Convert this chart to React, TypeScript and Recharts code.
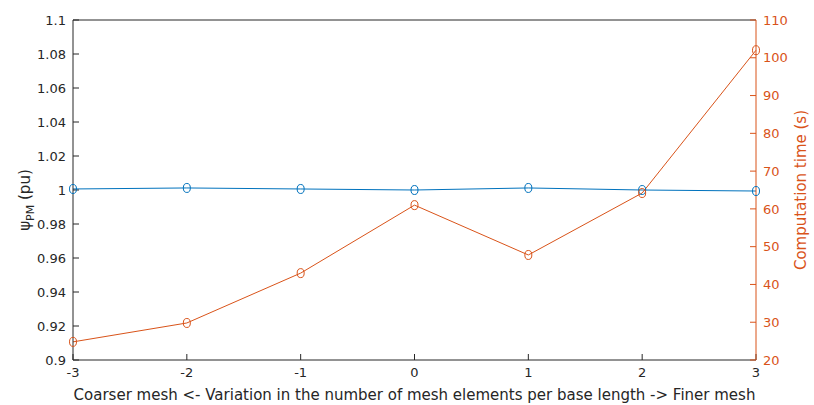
import React from 'react';
import {
  ComposedChart,
  Line,
  XAxis,
  YAxis,
  ReferenceLine,
} from 'recharts';

const variation = [-3, -2, -1, 0, 1, 2, 3];
const psiPM = [1.0006, 1.0012, 1.0006, 1.0, 1.0012, 1.0, 0.9994];
const compTime = [24.8, 29.8, 43, 61, 47.8, 64.2, 102];

const xTicks = [-3, -2, -1, 0, 1, 2, 3];
const leftTicks = [0.9, 0.92, 0.94, 0.96, 0.98, 1, 1.02, 1.04, 1.06, 1.08, 1.1];
const rightTicks = [20, 30, 40, 50, 60, 70, 80, 90, 100, 110];

const BLUE = '#0072BD';
const ORANGE = '#D95319';
const DARK = '#262626';
const FONT = 'DejaVu Sans, sans-serif';

const data = variation.map((v, i) => ({ v, psi: psiPM[i], time: compTime[i] }));

const Marker = (color: string) => (props: any) => {
  const { cx, cy, index } = props;
  if (cx == null || cy == null) return <g key={index} />;
  return (
    <ellipse key={index} cx={cx} cy={cy} rx={3.5} ry={4.5} fill="none" stroke={color} strokeWidth={1} />
  );
};

export default function App() {
  return (
    <div style={{ position: 'absolute', left: 0, top: 0, background: '#fff' }}>
      <style>{'body{margin:0}'}</style>
      <ComposedChart
        width={814}
        height={405}
        data={data}
        margin={{ top: 20, right: 0, left: 0, bottom: 0 }}
        style={{ fontFamily: FONT }}
      >
        <XAxis
          dataKey="v"
          type="number"
          domain={[-3, 3]}
          ticks={xTicks}
          stroke={DARK}
          tickSize={-6}
          tickMargin={14}
          height={45}
          tick={{ fontSize: 13, fill: DARK }}
          label={{
            value: 'Coarser mesh <- Variation in the number of mesh elements per base length -> Finer mesh',
            position: 'insideBottom',
            offset: 5,
            fontSize: 15,
            fill: DARK,
          }}
        />
        <YAxis
          yAxisId="left"
          domain={[0.9, 1.1]}
          ticks={leftTicks}
          width={73}
          stroke={DARK}
          tickSize={-6}
          tickMargin={13}
          tick={{ fontSize: 13, fill: DARK }}
          tickFormatter={(v) => String(Math.round(v * 100) / 100)}
          label={(p: any) => {
            const vb = p.viewBox;
            const cx = vb.x + 30;
            const cy = vb.y + vb.height / 2 + 10;
            return (
              <text
                x={cx}
                y={cy}
                transform={`rotate(-90 ${cx} ${cy})`}
                textAnchor="middle"
                fontSize={15}
                fill={DARK}
                fontFamily={FONT}
              >
                <tspan>ψ</tspan>
                <tspan dy={4} fontSize={11}>PM</tspan>
                <tspan dy={-4}> (pu)</tspan>
              </text>
            );
          }}
        />
        <YAxis
          yAxisId="right"
          orientation="right"
          domain={[20, 110]}
          ticks={rightTicks}
          width={58}
          stroke={ORANGE}
          tickSize={-6}
          tickMargin={13}
          tick={{ fontSize: 13, fill: ORANGE }}
          label={(p: any) => {
            const vb = p.viewBox;
            const cx = vb.x + 50;
            const cy = vb.y + vb.height / 2;
            return (
              <text
                x={cx}
                y={cy}
                transform={`rotate(-90 ${cx} ${cy})`}
                textAnchor="middle"
                fontSize={15}
                fill={ORANGE}
                fontFamily={FONT}
              >
                Computation time (s)
              </text>
            );
          }}
        />
        <ReferenceLine yAxisId="left" y={1.1} stroke={DARK} />
        <Line
          yAxisId="left"
          dataKey="psi"
          type="linear"
          stroke={BLUE}
          strokeWidth={1}
          dot={Marker(BLUE)}
          activeDot={false}
          isAnimationActive={false}
        />
        <Line
          yAxisId="right"
          dataKey="time"
          type="linear"
          stroke={ORANGE}
          strokeWidth={1}
          dot={Marker(ORANGE)}
          activeDot={false}
          isAnimationActive={false}
        />
      </ComposedChart>
    </div>
  );
}
